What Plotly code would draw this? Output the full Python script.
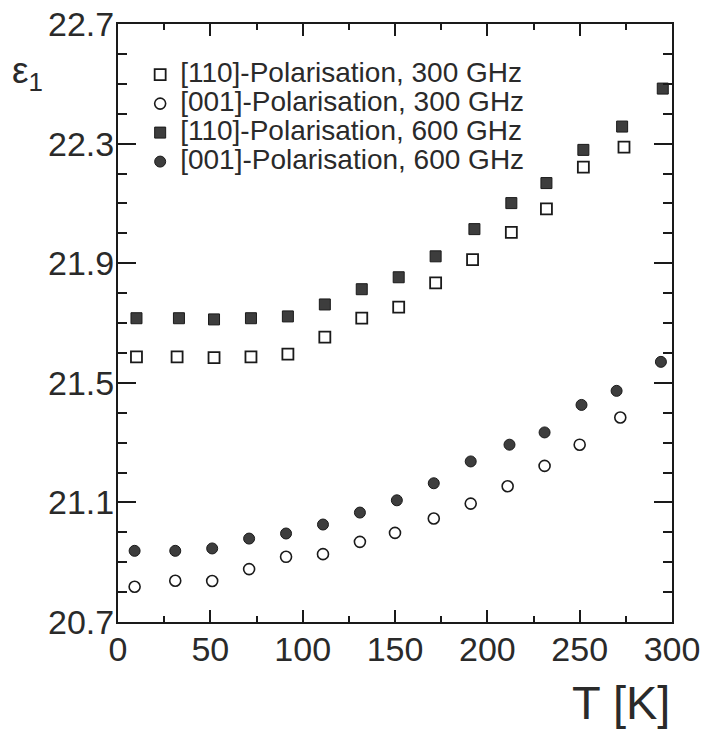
import plotly.graph_objects as go

# ---- data ----
T_110_300 = [10, 32, 52, 72, 92, 112, 132, 152, 172, 192, 213, 232, 252, 274]
eps_110_300 = [21.587, 21.587, 21.584, 21.587, 21.596, 21.653, 21.716, 21.753,
               21.834, 21.912, 22.003, 22.082, 22.221, 22.288]

T_001_300 = [9, 31, 51, 71, 91, 111, 131, 150, 171, 191, 211, 231, 250, 272]
eps_001_300 = [20.818, 20.838, 20.837, 20.877, 20.918, 20.927, 20.968, 20.998,
               21.046, 21.096, 21.154, 21.222, 21.293, 21.384]

T_110_600 = [10, 33, 52, 72, 92, 112, 132, 152, 172, 193, 213, 232, 252, 273, 295]
eps_110_600 = [21.716, 21.716, 21.712, 21.716, 21.722, 21.762, 21.813, 21.853,
               21.923, 22.014, 22.101, 22.168, 22.279, 22.357, 22.484]

T_001_600 = [9, 31, 51, 71, 91, 111, 131, 151, 171, 191, 212, 231, 251, 270, 294]
eps_001_600 = [20.938, 20.938, 20.946, 20.979, 20.996, 21.026, 21.066, 21.107,
               21.164, 21.237, 21.293, 21.334, 21.426, 21.473, 21.570]

names = ["[110]-Polarisation, 300 GHz", "[001]-Polarisation, 300 GHz",
         "[110]-Polarisation, 600 GHz", "[001]-Polarisation, 600 GHz"]

FONT = "Liberation Sans"
INK = "#1a1a1a"
TXT = "#2a2a2a"
FILL = "#3d3d3d"


def lbl(s):
    return '<span style="font-size:28px">' + s + '</span>'


fig = go.Figure()
fig.add_trace(go.Scatter(x=T_110_300, y=eps_110_300, mode="markers", name=lbl(names[0]),
                         cliponaxis=False,
                         marker=dict(symbol="square-open", size=11, color=INK,
                                     line=dict(width=1.8, color=INK))))
fig.add_trace(go.Scatter(x=T_001_300, y=eps_001_300, mode="markers", name=lbl(names[1]),
                         cliponaxis=False,
                         marker=dict(symbol="circle-open", size=11, color=INK,
                                     line=dict(width=1.6, color=INK))))
fig.add_trace(go.Scatter(x=T_110_600, y=eps_110_600, mode="markers", name=lbl(names[2]),
                         cliponaxis=False,
                         marker=dict(symbol="square", size=11, color=FILL,
                                     line=dict(width=1, color=INK))))
fig.add_trace(go.Scatter(x=T_001_600, y=eps_001_600, mode="markers", name=lbl(names[3]),
                         cliponaxis=False,
                         marker=dict(symbol="circle", size=11, color=FILL,
                                     line=dict(width=1, color=INK))))

axis_common = dict(showgrid=False, zeroline=False, showline=True, linewidth=2,
                   linecolor=INK, mirror="ticks", ticks="inside", tickwidth=1.5,
                   tickcolor=INK, automargin=False,
                   tickfont=dict(family=FONT, size=34, color=TXT))

fig.update_xaxes(range=[0, 300], tick0=0, dtick=50, ticklen=12,
                 ticklabelstandoff=-4,
                 minor=dict(dtick=25, ticklen=6, ticks="inside", tickwidth=1.5,
                            tickcolor=INK),
                 **axis_common)
fig.update_yaxes(range=[20.7, 22.7], tick0=20.7, dtick=0.4, ticklen=18,
                 tickformat=".1f", ticklabelstandoff=-5,
                 minor=dict(dtick=0.1, ticklen=9, ticks="inside", tickwidth=1.5,
                            tickcolor=INK),
                 **axis_common)

fig.add_annotation(text="T [K]", xref="paper", yref="paper", x=1.0, y=-0.087,
                   xanchor="right", yanchor="top", showarrow=False,
                   font=dict(family=FONT, size=47, color=TXT))
fig.add_annotation(text="ε<sub>1</sub>", xref="paper", yref="paper", x=-0.195, y=0.96,
                   xanchor="left", yanchor="top", showarrow=False,
                   font=dict(family=FONT, size=37, color=TXT))

fig.update_layout(
    width=701, height=731,
    margin=dict(l=118, r=29, t=24, b=109, autoexpand=False),
    paper_bgcolor="white", plot_bgcolor="white",
    showlegend=True,
    legend=dict(x=0.04, y=0.948, xanchor="left", yanchor="top",
                bgcolor="rgba(0,0,0,0)", borderwidth=0,
                font=dict(family=FONT, size=20, color=TXT),
                itemwidth=30, tracegroupgap=0),
)

fig.write_html("out.html")
